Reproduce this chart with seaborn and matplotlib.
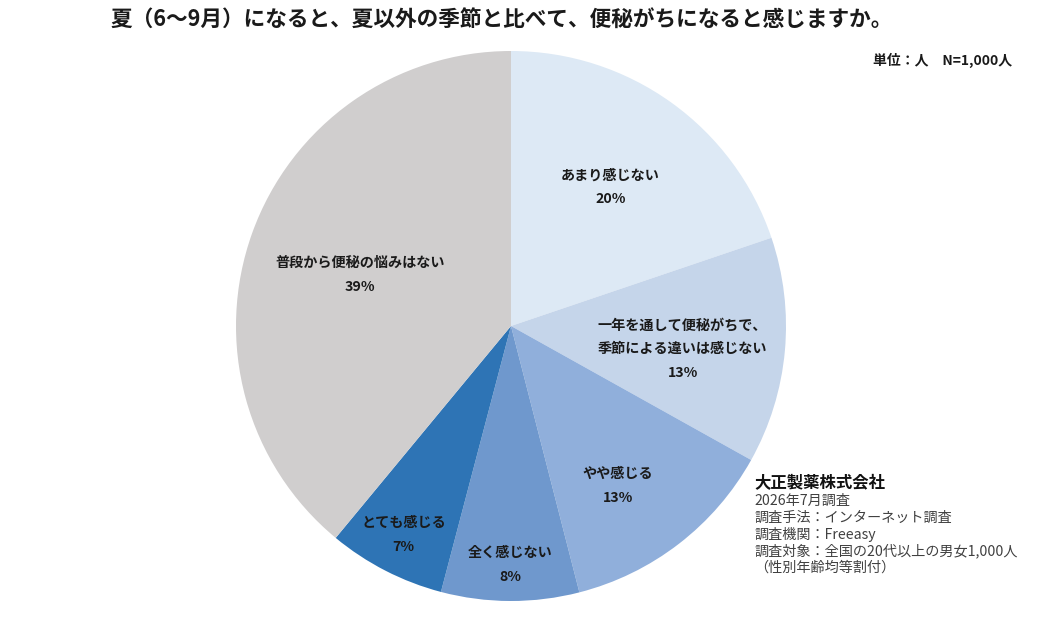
import numpy as np
import matplotlib
matplotlib.use("Agg")
import matplotlib.pyplot as plt
import seaborn as sns

# survey answers, clockwise from 12 o'clock
labels = ["あまり感じない", "一年を通して便秘がちで、\n季節による違いは感じない", "やや感じる",
          "全く感じない", "とても感じる", "普段から便秘の悩みはない"]
shares = [19.8, 13.3, 12.9, 8.1, 6.9, 39.0]
shown_pct = [20, 13, 13, 8, 7, 39]
colors = ["#dde9f5", "#c5d5ea", "#90afdb", "#6f98cd", "#2e74b5", "#d0cece"]
# label placement: fraction of radius, and clockwise nudge from the wedge middle (deg)
label_r = [0.62, 0.63, 0.70, 0.87, 0.855, 0.58]
label_nudge = [0, 2.5, 3.8, 0, 0, -1.2]

title = "夏（6～9月）になると、夏以外の季節と比べて、便秘がちになると感じますか。"
unit_note = "単位：人　N=1,000人"
company = "大正製薬株式会社"
survey_notes = ["2026年7月調査", "調査手法：インターネット調査", "調査機関：Freeasy",
                "調査対象：全国の20代以上の男女1,000人", "（性別年齢均等割付）"]

sns.set_theme(style="white")
plt.rcParams['font.family'] = ['Noto Sans CJK JP', 'DejaVu Sans']

W, H = 1060, 618
fig = plt.figure(figsize=(W / 100, H / 100), dpi=100)
fig.patch.set_facecolor("white")

# pie centre (511, 326) px, radius 275 px
cx, cy, r = 511, 326, 275
ax = fig.add_axes([(cx - r) / W, (H - cy - r) / H, 2 * r / W, 2 * r / H])
wedges, _ = ax.pie(shares, colors=colors, startangle=90, counterclock=False,
                   radius=1, wedgeprops=dict(linewidth=0))
ax.set_xlim(-1, 1)
ax.set_ylim(-1, 1)
ax.axis("off")

for w, lab, pct, lr, nd in zip(wedges, labels, shown_pct, label_r, label_nudge):
    mid = np.deg2rad((w.theta1 + w.theta2) / 2 - nd)
    x, y = lr * np.cos(mid), lr * np.sin(mid)
    ax.text(x, y, f"{lab}\n{pct}%", ha="center", va="center", fontsize=10.2,
            fontweight="bold", color="#1a1a1a", linespacing=1.9)

fig.text(502 / W, 1 - 20 / H, title, ha="center", va="center", fontsize=15.6,
         fontweight="bold", color="#1a1a1a")
fig.text(1012 / W, 1 - 60 / H, unit_note, ha="right", va="center", fontsize=10,
         fontweight="bold", color="#1a1a1a")

fig.text(754 / W, 1 - 483 / H, company, ha="left", va="center", fontsize=11.8,
         fontweight="bold", color="#111111")
for i, line in enumerate(survey_notes):
    fig.text(754 / W, 1 - (501 + i * 16.7) / H, line, ha="left", va="center",
             fontsize=10.2, color="#404040")

fig.savefig("out.png", dpi=100, facecolor="white")
plt.close(fig)
